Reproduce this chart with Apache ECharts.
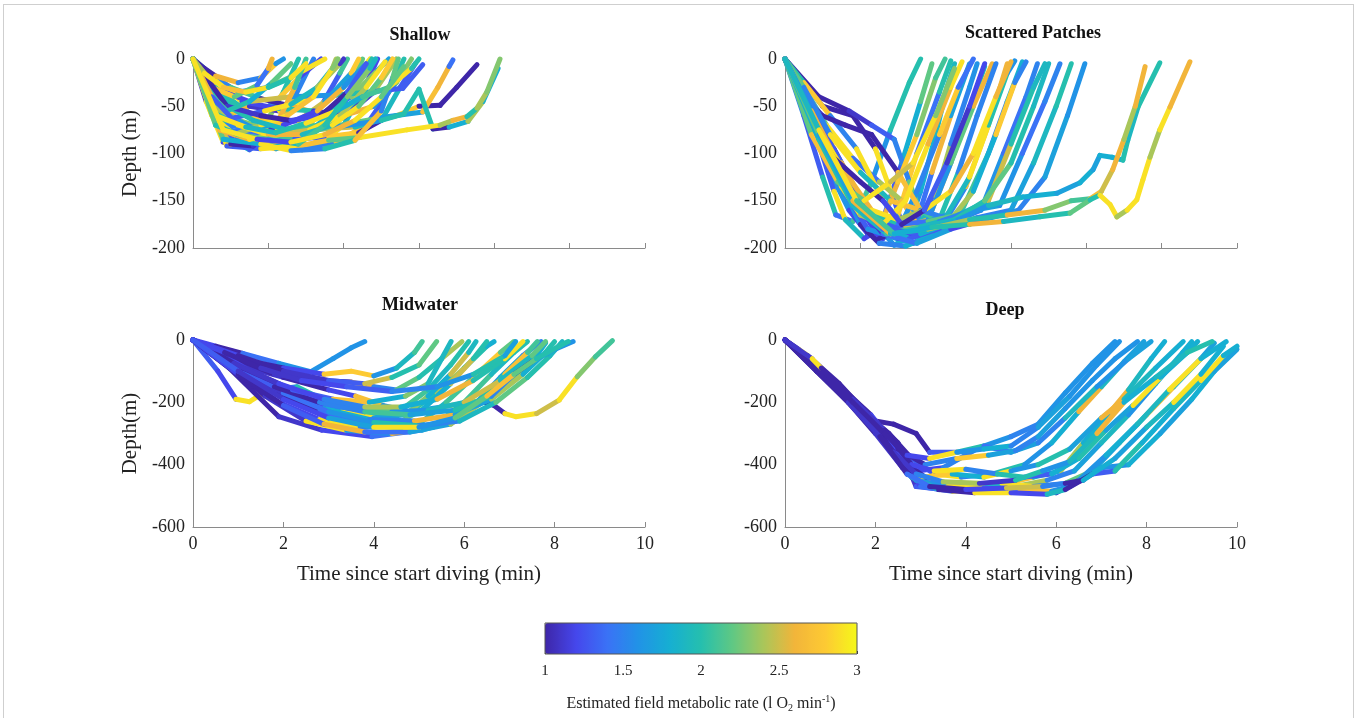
<!DOCTYPE html>
<html>
<head>
<meta charset="utf-8">
<script src="https://cdn.jsdelivr.net/npm/echarts@6/dist/echarts.min.js"></script>
<style>
  html, body { margin: 0; padding: 0; background: #fff; }
  #main { width: 1357px; height: 718px; }
  #frame { position: absolute; left: 3px; top: 4px; width: 1349px; height: 730px; border: 1px solid #cfcfcf; pointer-events: none; }
</style>
</head>
<body>
<div id="main"></div>
<div id="frame"></div>
<script>
// each dive: [time (min), depth (m), metabolic rate of the segment that starts here]
var shallowDives = [
  [[0,0,1.1],[0.35,-45,2.9],[0.8,-88,1.2],[1.3,-92,1.0],[1.9,-70,2.3],[2.4,-35,2.0],[2.8,0,2]],
  [[0,0,2.0],[0.5,-55,2.9],[1.0,-85,1.8],[1.5,-96,1.3],[2.1,-80,2.5],[2.7,-40,1.5],[3.2,0,1.5]],
  [[0,0,2.9],[0.4,-25,2.6],[0.9,-40,2.0],[1.6,-60,1.5],[2.2,-45,2.8],[2.8,-20,1.2],[3.4,0,1]],
  [[0,0,1.9],[0.6,-20,2.7],[1.2,-35,1.6],[2.0,-30,2.2],[2.8,-15,2.9],[3.5,0,2]],
  [[0,0,1.3],[0.7,-65,2.0],[1.4,-88,2.8],[2.2,-95,1.7],[2.9,-85,2.4],[3.4,-50,1.3],[3.9,-15,2.1],[4.1,0,2]],
  [[0,0,2.2],[0.3,-30,1.4],[0.9,-60,2.6],[1.5,-50,1.1],[2.3,-55,2.9],[3.1,-40,1.8],[3.7,-10,2.4],[3.8,0,2]],
  [[0,0,1.6],[0.6,-40,1.0],[1.3,-75,2.3],[2.1,-90,1.9],[2.9,-96,2.7],[3.6,-80,1.4],[4.1,-40,2.2],[4.5,0,2]],
  [[0,0,2.6],[0.5,-35,1.8],[1.2,-55,2.9],[2.0,-70,1.2],[2.8,-65,2.5],[3.5,-45,1.7],[4.2,-15,2.8],[4.4,0,2]],
  [[0,0,1.8],[0.8,-80,1.3],[1.6,-85,2.7],[2.5,-88,1.6],[3.3,-92,2.9],[4.0,-70,1.9],[4.5,-35,1.2],[4.9,0,1]],
  [[0,0,2.4],[0.4,-15,1.5],[1.0,-30,2.1],[1.8,-42,1.0],[2.6,-50,2.6],[3.4,-58,1.4],[4.2,-40,2.3],[4.9,-12,1.7],[5.2,0,1.7]],
  [[0,0,1.2],[0.7,-50,2.2],[1.5,-78,1.6],[2.4,-82,2.9],[3.2,-76,1.8],[4.0,-62,1.1],[4.8,-35,2.4],[5.4,0,2]],
  [[0,0,2.1],[0.6,-45,2.8],[1.4,-70,1.7],[2.3,-85,2.2],[3.0,-93,1.5],[3.8,-88,2.7],[4.6,-70,1.3],[5.2,-35,2.0],[5.6,0,2]],
  [[0,0,1.5],[0.5,-20,2.9],[1.3,-45,1.2],[2.2,-52,2.0],[3.2,-55,1.1],[4.0,-60,2.6],[4.8,-50,1.6],[5.4,-25,2.3],[5.8,0,2]],
  [[0,0,2.8],[0.9,-75,1.4],[1.8,-80,2.1],[2.7,-85,1.3],[3.6,-82,2.8],[4.4,-78,1.0],[5.0,-65,1.9],[5.5,-30,1.3],[5.9,-5,1]],
  [[0,0,1.4],[0.8,-60,2.3],[1.8,-72,1.7],[3.0,-75,2.5],[4.3,-72,1.9],[5.4,-60,2.8],[6.0,-50,1.0],[6.56,-49,1.0],[7.0,-30,1.0],[7.54,-6,1.0]],
  [[0,0,2.3],[0.7,-55,1.6],[1.7,-75,2.9],[2.8,-78,1.3],[3.9,-70,2.2],[5.0,-62,1.7],[6.1,-56,2.7],[6.5,-30,2.6],[6.8,-8,1.4],[6.9,-1,1.4]],
  [[0,0,1.9],[0.5,-30,1.2],[1.5,-45,2.5],[2.6,-40,1.6],[3.8,-38,2.0],[4.7,-35,1.3],[5.57,-31,1.3],[6.1,-6,1.3]],
  [[0,0,2.0],[0.9,-70,1.5],[2.5,-80,2.3],[3.8,-72,1.6],[5.0,-65,2.0],[5.6,-58,2.0],[6.0,-32,2.0],[6.37,-74,1.0],[6.8,-72,1.8],[7.3,-66,2.4],[7.7,-45,1.8],[8.1,-10,1.8]],
  [[0,0,2.9],[0.9,-92,1.3],[1.8,-95,2.9],[2.8,-92,2.7],[3.6,-86,2.2],[4.43,-83,2.9],[5.68,-75,2.9],[6.56,-70,2.4],[6.9,-65,2.6],[7.27,-61,2.0],[7.54,-52,2.4],[7.8,-35,2.3],[8.15,0,2.3]],
  [[0,0,2.7],[0.4,-40,2.9],[0.7,-72,2.5],[1.0,-90,1.0],[1.6,-92,1.1],[2.2,-70,2.6],[2.7,-30,2.1],[3.0,0,2]],
  [[0,0,1.0],[0.3,-10,1.0],[0.6,-18,2.6],[1.2,-25,1.5],[1.8,-20,2.8],[2.2,-5,1.6],[2.4,0,1]],
  [[0,0,2.5],[0.6,-30,2.0],[1.4,-60,2.8],[2.4,-70,1.2],[3.3,-55,2.6],[4.0,-30,1.6],[4.6,-5,2.9],[4.7,0,2]],
  [[0,0,1.7],[0.5,-50,2.4],[1.1,-62,1.3],[1.9,-55,2.9],[2.6,-48,1.9],[3.3,-30,2.4],[3.9,-5,1.1],[4.0,0,1]],
  [[0,0,2.2],[0.8,-85,1.8],[1.8,-90,2.9],[2.6,-97,1.5],[3.5,-95,2.0],[4.3,-86,2.7],[5.0,-55,1.5],[5.3,-20,2.2],[5.45,0,2]],
  [[0,0,1.3],[0.2,-20,1.1],[0.5,-30,2.8],[1.1,-40,2.2],[1.7,-28,1.4],[2.0,-10,2.6],[2.1,0,2]],
  [[0,0,2.9],[0.5,-60,2.9],[1.1,-80,2.4],[1.8,-70,2.9],[2.5,-60,2.7],[3.2,-40,2.9],[3.7,-10,2.3],[3.85,0,2]],
  [[0,0,2.0],[0.7,-45,2.0],[1.6,-65,1.9],[2.5,-75,2.1],[3.3,-70,1.9],[4.0,-45,2.0],[4.6,-10,2.0],[4.75,0,2]],
  [[0,0,1.0],[0.9,-50,1.1],[1.8,-60,1.0],[2.6,-65,1.2],[3.4,-60,1.0],[4.1,-35,1.3],[4.6,-5,1.0]],
  [[0,0,2.8],[0.7,-75,2.6],[1.5,-85,2.9],[2.3,-80,2.5],[3.1,-75,2.9],[3.9,-60,2.4],[4.6,-30,2.9],[5.1,-3,2.5]],
  [[0,0,1.6],[0.4,-35,2.1],[0.9,-55,2.0],[1.5,-45,1.8],[2.1,-25,2.2],[2.6,-5,2.0]],
  [[0,0,2.6],[0.5,-40,1.3],[1.2,-70,2.9],[2.0,-80,2.6],[2.9,-80,1.9],[3.7,-70,2.9],[4.4,-50,2.2],[5.0,-20,2.8],[5.3,0,2]],
  [[0,0,1.9],[0.6,-60,2.9],[1.4,-72,1.9],[2.2,-78,2.0],[3.0,-68,2.9],[3.8,-55,1.8],[4.5,-40,2.1],[5.2,-30,2.9],[5.8,-10,2.0],[6.0,0,2]],
  [[0,0,2.4],[0.3,-15,2.9],[0.8,-30,2.7],[1.4,-35,2.9],[2.0,-30,2.0],[2.6,-20,2.9],[3.0,-5,2.1]],
  [[0,0,2.2],[0.6,-70,2.0],[1.2,-80,2.2],[2.0,-85,1.9],[2.8,-90,2.1],[3.5,-70,2.0],[4.1,-40,2.3],[4.7,-10,1.9],[4.85,0,2]],
  [[0,0,2.9],[0.8,-75,2.9],[1.7,-85,1.2],[2.6,-88,2.9],[3.5,-80,2.6],[4.3,-65,2.9],[5.0,-40,2.2],[5.6,-8,2.9]]
];

var patchDives = [
  [[0,0,1.5],[0.5,-60,1.3],[1.0,-125,2.0],[1.35,-165,1.4],[1.8,-172,2.1],[2.3,-130,1.6],[2.8,-75,2.0],[3.3,-25,2.0],[3.6,0,2]],
  [[0,0,1.1],[0.6,-55,2.9],[1.2,-120,1.6],[1.7,-160,1.2],[2.2,-185,1.0],[2.6,-170,1.3],[3.1,-110,1.8],[3.6,-45,2.2],[3.9,-5,1.4]],
  [[0,0,1.2],[1.0,-50,1.0],[1.8,-60,1.0],[2.4,-95,2.9],[2.9,-150,1.3],[3.2,-185,1.6],[3.6,-140,1.8],[4.0,-80,1.9],[4.3,-30,1.9],[4.5,-5,1.3]],
  [[0,0,1.8],[0.5,-40,2.9],[1.0,-80,1.4],[1.6,-120,2.7],[2.2,-160,1.7],[2.6,-190,1.2],[3.0,-165,2.8],[3.5,-100,1.4],[4.1,-35,2.0],[4.4,-2,2]],
  [[0,0,1.0],[0.9,-40,1.0],[1.7,-55,1.1],[2.3,-70,1.3],[2.9,-85,1.5],[3.3,-130,2.2],[3.7,-175,1.3],[4.0,-145,2.4],[4.4,-90,1.5],[4.9,-30,1.6],[5.1,-5,1.2]],
  [[0,0,2.9],[0.4,-35,1.6],[0.9,-90,1.3],[1.3,-140,2.9],[1.6,-170,1.9],[2.1,-190,1.2],[2.5,-180,2.6],[3.0,-130,2.8],[3.5,-80,2.3],[4.0,-20,2.1],[4.25,0,2]],
  [[0,0,1.3],[0.7,-50,2.6],[1.3,-95,1.1],[1.9,-140,2.9],[2.4,-175,1.6],[2.9,-197,1.8],[3.4,-185,1.4],[3.9,-120,2.6],[4.4,-60,1.7],[4.9,-5,1.7]],
  [[0,0,1.6],[0.5,-30,2.2],[1.1,-70,2.9],[1.8,-105,1.4],[2.5,-130,2.4],[3.1,-150,2.7],[3.5,-175,1.9],[3.9,-160,2.6],[4.4,-110,1.5],[4.9,-55,2.0],[5.3,-8,1.4]],
  [[0,0,1.4],[0.6,-45,1.2],[1.2,-100,1.5],[1.9,-150,1.2],[2.5,-190,1.0],[3.0,-182,1.6],[3.5,-140,1.5],[4.1,-80,2.8],[4.6,-30,1.4],[5.0,0,1]],
  [[0,0,2.0],[0.5,-25,2.8],[1.2,-60,1.5],[1.9,-95,2.9],[2.6,-150,1.7],[3.2,-178,2.5],[3.8,-170,1.6],[4.4,-110,2.2],[5.0,-50,2.6],[5.5,-5,1.3]],
  [[0,0,1.5],[0.8,-60,1.3],[1.5,-110,2.6],[2.2,-160,1.4],[2.8,-188,1.8],[3.4,-195,1.5],[4.0,-180,2.0],[4.6,-120,1.5],[5.1,-60,1.5],[5.6,-5,1.5]],
  [[0,0,1.1],[0.5,-40,1.1],[1.0,-60,1.0],[1.6,-70,1.0],[2.3,-80,1.0],[3.0,-120,2.7],[3.6,-160,2.1],[4.2,-175,1.5],[4.8,-135,2.7],[5.4,-70,2.6],[5.9,-5,1.7]],
  [[0,0,2.6],[0.6,-55,1.4],[1.3,-120,2.0],[2.0,-165,1.2],[2.8,-185,2.5],[3.6,-175,1.6],[4.3,-165,1.9],[4.9,-125,2.9],[5.4,-70,2.0],[5.9,-15,1.6],[6.1,-2,1.6]],
  [[0,0,1.7],[0.7,-65,1.2],[1.4,-125,1.6],[2.0,-175,1.0],[2.5,-195,1.5],[3.2,-198,1.8],[4.0,-185,1.5],[4.7,-160,2.1],[5.4,-100,1.5],[5.9,-45,1.8],[6.3,-3,1.4]],
  [[0,0,2.2],[0.5,-30,1.5],[1.2,-80,2.9],[2.0,-120,1.9],[2.8,-150,2.7],[3.6,-160,1.5],[4.4,-170,2.4],[5.0,-140,1.8],[5.6,-80,2.8],[6.1,-25,1.5],[6.4,-3,1.5]],
  [[0,0,1.2],[0.8,-75,1.7],[1.5,-135,1.3],[2.2,-180,1.6],[3.0,-190,1.2],[3.8,-180,1.5],[4.6,-170,1.4],[5.2,-160,1.6],[5.8,-100,1.4],[6.4,-40,1.5],[6.7,-5,1.5]],
  [[0,0,1.9],[0.6,-50,2.3],[1.4,-110,1.5],[2.2,-160,2.0],[3.0,-175,1.4],[3.8,-172,2.2],[4.6,-165,1.8],[5.4,-150,2.5],[6.0,-90,2.0],[6.6,-30,1.9],[6.9,-5,1.9]],
  [[0,0,1.4],[0.7,-60,1.1],[1.5,-120,1.6],[2.3,-170,1.3],[3.2,-182,1.9],[4.1,-172,1.5],[5.0,-160,1.7],[5.7,-155,1.6],[6.3,-100,1.4],[6.9,-45,1.5],[7.3,-5,1.5]],
  [[0,0,1.6],[0.7,-55,2.6],[1.6,-125,1.2],[2.5,-175,1.8],[3.3,-190,1.3],[4.2,-178,2.0],[5.1,-168,1.5],[6.0,-160,1.7],[6.6,-110,1.9],[7.2,-50,2.0],[7.6,-5,2.0]],
  [[0,0,1.3],[0.8,-70,1.5],[1.7,-140,1.1],[2.6,-185,1.4],[3.5,-195,1.7],[4.4,-180,1.2],[5.3,-170,1.6],[6.2,-160,1.5],[6.9,-125,1.7],[7.5,-60,1.6],[7.96,-5,1.2]],
  [[0,0,2.9],[0.5,-45,2.9],[1.0,-90,2.6],[1.5,-135,2.9],[2.0,-165,2.4],[2.6,-175,2.9],[3.2,-150,2.9],[3.8,-90,2.6],[4.4,-30,2.9],[4.7,-3,2.9]],
  [[0,0,2.4],[0.8,-70,2.9],[1.6,-120,2.6],[2.3,-160,2.9],[3.0,-170,2.4],[3.7,-160,2.9],[4.4,-140,2.6],[5.0,-100,2.9],[5.6,-40,2.6],[6.0,-3,2.4]],
  [[0,0,1.3],[0.6,-60,1.0],[1.3,-105,1.0],[2.0,-130,1.0],[2.6,-150,1.2],[3.1,-175,1.0],[3.7,-160,1.3],[4.3,-110,1.1],[4.9,-50,1.2],[5.3,-5,1.2]],
  [[0,0,2.2],[0.7,-80,2.7],[1.4,-130,2.2],[2.1,-150,2.9],[2.8,-130,2.5],[3.4,-110,2.9],[4.0,-60,2.3],[4.5,-10,2.7]],
  [[0,0,1.8],[0.9,-85,2.0],[1.8,-155,1.9],[2.7,-185,2.1],[3.6,-178,1.9],[4.5,-170,2.0],[5.3,-150,2.2],[6.0,-110,2.0],[6.6,-50,1.9],[7.0,-5,2.0]],
  [[0,0,1.5],[0.8,-70,1.2],[1.7,-140,1.5],[2.6,-180,1.3],[3.6,-185,1.8],[4.6,-170,1.6],[5.4,-155,1.9],[6.32,-146,1.8],[7.22,-142,1.7],[7.83,-131,1.8],[8.18,-117,1.7],[8.36,-102,1.8],[8.68,-104,1.8],[8.97,-107,2.0],[9.1,-86,1.9],[9.37,-51,2.0],[9.95,-4,2]],
  [[0,0,2.2],[0.9,-80,1.7],[1.8,-150,2.6],[2.8,-185,1.9],[3.8,-180,2.4],[4.9,-170,2.0],[5.9,-165,2.6],[6.9,-160,2.3],[7.6,-150,2.1],[8.1,-148,2.7],[8.4,-140,2.5],[8.7,-117,2.6],[9.0,-85,2.4],[9.3,-50,2.6],[9.56,-8,2.4]],
  [[0,0,1.9],[0.9,-75,2.9],[1.9,-150,2.1],[2.9,-185,1.8],[3.9,-178,2.0],[4.9,-175,2.6],[5.8,-172,1.9],[6.77,-167,2.0],[7.57,-163,2.2],[8.1,-149,2.0],[8.36,-144,2.9],[8.63,-154,2.9],[8.81,-167,2.4],[9.08,-160,2.9],[9.34,-149,2.9],[9.5,-128,2.9],[9.69,-104,2.4],[9.95,-75,2.9],[10.22,-51,2.6],[10.75,-3,2.9]]
];

var midwaterDives = [
  [[0,0,1.2],[0.5,-20,1.0],[1.1,-43,1.4],[1.9,-75,1.6],[2.6,-102,1.6],[3.1,-60,1.6],[3.5,-25,1.6],[3.8,-5,1.6]],
  [[0,0,1.3],[0.55,-100,1.2],[0.95,-190,2.9],[1.25,-198,2.9],[1.65,-162,1.5],[2.3,-150,2.0],[3.0,-200,2.2],[3.8,-235,1.6],[4.6,-225,2.1],[5.2,-160,1.9],[5.7,-80,2.0],[6.1,-5,2.0]],
  [[0,0,1.1],[0.8,-80,1.0],[1.7,-160,1.3],[2.6,-210,1.5],[3.6,-240,1.9],[4.6,-235,1.7],[5.5,-215,2.3],[6.34,-195,1.0],[6.66,-210,1.0],[6.9,-236,2.9],[7.14,-246,2.9],[7.6,-236,2.5],[8.1,-193,2.9],[8.5,-118,2.3],[8.9,-54,2.1],[9.28,-2,2]],
  [[0,0,1.0],[0.8,-90,1.0],[1.9,-246,1.1],[2.85,-289,1.2],[3.96,-310,1.4],[5.07,-289,1.8],[5.87,-257,1.5],[6.26,-203,1.6],[6.8,-120,1.7],[7.3,-50,1.5],[7.7,-5,1.5]],
  [[0,0,1.1],[0.7,-70,1.0],[1.6,-180,1.1],[2.5,-260,2.9],[3.4,-290,1.6],[4.4,-300,2.6],[5.3,-280,1.9],[6.0,-200,2.1],[6.6,-110,1.9],[7.1,-40,2.0],[7.4,-5,2]],
  [[0,0,1.2],[0.9,-70,1.1],[1.8,-140,1.0],[2.7,-200,2.6],[3.5,-240,1.5],[4.3,-275,2.9],[5.0,-270,1.9],[5.6,-200,2.1],[6.2,-120,2.8],[6.8,-40,2.2],[7.1,-5,2]],
  [[0,0,1.0],[1.0,-80,1.1],[2.0,-120,1.0],[3.0,-160,1.2],[3.6,-180,2.7],[4.2,-210,1.6],[4.8,-230,2.0],[5.4,-170,2.4],[6.0,-90,2.0],[6.5,-20,1.8],[6.66,-5,1.8]],
  [[0,0,1.2],[0.8,-50,1.0],[1.8,-110,1.1],[2.8,-130,1.0],[3.5,-135,2.6],[4.0,-150,1.5],[4.5,-160,2.2],[5.0,-120,2.0],[5.5,-60,2.4],[5.95,-5,2]],
  [[0,0,1.3],[1.0,-60,1.0],[2.0,-90,1.2],[2.9,-110,2.8],[3.5,-100,2.8],[4.0,-115,1.6],[4.5,-90,1.9],[4.9,-40,2.1],[5.07,-5,1.8]],
  [[0,0,1.0],[0.9,-100,1.0],[1.9,-200,1.2],[2.8,-255,2.9],[3.7,-280,1.5],[4.5,-270,2.2],[5.1,-220,1.8],[5.7,-140,2.5],[6.2,-60,2.0],[6.5,-5,2]],
  [[0,0,1.4],[0.8,-60,1.1],[1.6,-130,1.3],[2.5,-190,1.7],[3.3,-230,2.9],[4.0,-250,1.7],[4.7,-240,2.3],[5.2,-180,1.8],[5.7,-110,2.5],[6.1,-40,1.9],[6.26,-5,1.9]],
  [[0,0,1.1],[0.9,-90,1.2],[1.9,-170,1.0],[2.8,-230,1.4],[3.8,-270,1.8],[4.7,-285,2.9],[5.6,-270,1.6],[6.3,-200,2.0],[6.9,-110,2.7],[7.4,-40,2.1],[7.62,-5,2]],
  [[0,0,1.2],[1.0,-110,1.0],[2.0,-210,1.3],[2.9,-270,2.6],[3.8,-295,1.4],[4.8,-295,1.7],[5.7,-270,2.4],[6.4,-200,1.7],[7.1,-120,2.0],[7.6,-50,1.8],[7.8,-10,1.8]],
  [[0,0,1.0],[0.8,-60,1.2],[1.7,-140,1.1],[2.6,-200,1.5],[3.5,-220,2.2],[4.4,-230,1.6],[5.2,-225,1.9],[6.0,-200,2.5],[6.8,-130,1.9],[7.5,-50,2.2],[7.8,-5,1.0]],
  [[0,0,1.2],[0.9,-80,1.0],[1.9,-160,1.2],[2.9,-220,1.8],[3.9,-255,1.5],[4.9,-260,2.6],[5.8,-240,1.7],[6.6,-190,2.4],[7.3,-110,1.8],[7.8,-40,2.0],[8.0,-5,2.0]],
  [[0,0,1.3],[1.0,-90,1.1],[2.0,-170,1.4],[3.0,-230,1.6],[4.0,-265,2.0],[5.0,-275,1.5],[5.9,-260,1.9],[6.7,-200,2.2],[7.4,-120,2.0],[7.9,-50,1.9],[8.17,-5,1.9]],
  [[0,0,1.1],[0.8,-70,1.3],[1.8,-150,1.0],[2.8,-200,1.5],[3.8,-230,2.1],[4.8,-240,1.7],[5.8,-225,2.0],[6.6,-180,1.5],[7.1,-110,1.0],[7.5,-70,1.6],[8.0,-30,1.6],[8.41,-5,1.6]],
  [[0,0,1.2],[1.0,-50,1.0],[2.0,-100,1.1],[3.0,-130,1.3],[3.8,-140,2.5],[4.4,-120,2.0],[5.0,-80,2.2],[5.39,-5,1.8]],
  [[0,0,1.1],[1.1,-90,1.0],[2.2,-160,1.3],[3.1,-190,2.7],[3.9,-200,1.8],[4.7,-180,2.3],[5.2,-140,1.9],[5.5,-60,1.9],[5.71,-5,1.9]],
  [[0,0,1.0],[0.9,-75,1.1],[1.9,-140,1.2],[2.9,-190,1.5],[3.8,-215,2.4],[4.6,-215,1.8],[5.4,-190,2.6],[6.2,-130,2.0],[6.9,-60,2.9],[7.3,-5,2.0]],
  [[0,0,1.2],[0.7,-40,1.0],[1.5,-90,1.1],[2.4,-130,1.2],[3.4,-150,1.3],[4.4,-165,1.5],[5.4,-150,1.6],[6.2,-110,2.0],[6.9,-50,1.7],[7.14,-5,1.7]],
  [[0,0,1.3],[1.0,-100,1.1],[2.0,-190,1.2],[3.0,-250,1.7],[4.0,-280,2.9],[5.0,-280,1.6],[5.8,-250,2.2],[6.5,-180,2.7],[7.1,-110,2.2],[7.6,-60,2.0],[8.1,-20,2.0],[8.3,-5,2]]
];

var deepDives = [
  [[0,0,1.0],[0.3,-30,2.9],[0.5,-50,1.0],[1.2,-140,1.0],[1.9,-250,1.0],[2.3,-340,1.1],[2.9,-420,1.2],[3.5,-410,1.5],[4.3,-345,1.6],[5.0,-310,1.5],[5.6,-270,1.6],[6.2,-170,1.6],[6.8,-75,1.6],[7.3,-5,1.6]],
  [[0,0,1.0],[0.6,-70,1.0],[1.3,-160,1.0],[1.9,-250,1.0],[2.5,-330,1.1],[2.9,-470,1.3],[3.5,-480,2.8],[4.2,-470,1.6],[4.9,-460,2.7],[5.5,-440,1.8],[6.1,-420,2.4],[6.6,-330,1.8],[7.2,-230,2.6],[7.6,-160,1.9],[8.1,-60,1.8],[8.4,-5,1.8]],
  [[0,0,1.1],[0.5,-60,1.0],[1.2,-150,1.1],[1.8,-240,1.0],[2.3,-300,1.0],[2.8,-380,1.3],[3.3,-430,2.9],[3.9,-440,1.5],[4.6,-430,2.0],[5.3,-400,1.6],[5.9,-330,1.8],[6.5,-230,2.6],[7.0,-150,1.9],[7.5,-70,1.7],[7.94,-5,1.7]],
  [[0,0,1.0],[0.7,-90,1.0],[1.4,-180,1.0],[2.0,-260,1.0],[2.4,-270,1.0],[2.9,-300,1.0],[3.2,-360,1.3],[3.8,-360,2.0],[4.4,-340,1.4],[5.0,-360,1.7],[5.6,-330,1.5],[6.2,-250,1.9],[6.9,-150,1.6],[7.6,-60,1.7],[8.1,-5,1.7]],
  [[0,0,1.0],[0.6,-80,1.1],[1.3,-170,1.0],[2.0,-270,1.0],[2.6,-380,1.2],[3.0,-470,1.4],[3.7,-485,2.9],[4.4,-480,1.3],[5.1,-470,2.4],[5.8,-450,1.5],[6.4,-420,1.7],[7.0,-330,1.9],[7.6,-240,1.6],[8.2,-140,1.8],[8.8,-40,1.8],[9.0,-5,1.8]],
  [[0,0,1.0],[0.8,-100,1.0],[1.5,-200,1.1],[2.1,-300,1.0],[2.7,-420,1.6],[3.3,-460,1.2],[4.0,-470,1.9],[4.8,-460,2.9],[5.5,-470,1.5],[6.2,-460,2.2],[6.8,-420,1.7],[7.4,-330,2.0],[8.0,-240,2.7],[8.6,-150,1.8],[9.2,-60,1.7],[9.5,-10,1.7]],
  [[0,0,1.0],[0.7,-90,1.0],[1.4,-190,1.0],[2.1,-290,1.1],[2.7,-400,1.0],[3.2,-450,2.6],[3.9,-470,1.2],[4.7,-485,1.0],[5.4,-480,2.0],[6.0,-490,1.1],[6.5,-450,1.6],[7.1,-370,1.8],[7.8,-270,1.9],[8.5,-160,2.9],[9.2,-60,1.8],[9.76,-5,1.8]],
  [[0,0,1.1],[0.8,-110,1.0],[1.6,-230,1.0],[2.3,-330,1.2],[2.9,-450,1.6],[3.6,-470,2.9],[4.4,-475,1.4],[5.2,-480,2.7],[5.9,-485,1.6],[6.3,-470,1.8],[7.0,-410,1.6],[7.6,-400,1.8],[8.3,-300,1.7],[9.0,-190,1.8],[9.5,-100,1.7],[10.0,-30,1.7]],
  [[0,0,1.0],[0.7,-100,1.0],[1.4,-200,1.0],[2.0,-300,1.1],[2.6,-410,1.3],[3.0,-440,2.8],[3.7,-430,1.8],[4.4,-440,2.9],[5.0,-420,1.6],[5.6,-400,2.0],[6.3,-350,1.7],[7.0,-250,2.6],[7.5,-190,1.9],[8.2,-90,1.8],[8.81,-5,1.8]],
  [[0,0,1.0],[0.6,-70,1.0],[1.3,-160,1.0],[1.9,-240,1.2],[2.5,-350,1.0],[3.1,-400,1.5],[3.8,-380,2.8],[4.5,-370,1.7],[5.1,-355,1.5],[5.6,-310,1.7],[6.2,-220,1.6],[6.8,-130,1.6],[7.3,-60,1.6],[7.8,-5,1.6]],
  [[0,0,1.0],[0.8,-110,1.1],[1.6,-220,1.0],[2.2,-320,1.0],[2.8,-440,1.9],[3.4,-480,1.0],[4.2,-490,2.9],[5.0,-490,1.2],[5.8,-495,1.9],[6.2,-480,1.0],[6.8,-430,1.3],[7.3,-420,2.0],[7.9,-330,1.8],[8.6,-220,1.9],[9.2,-130,2.9],[9.7,-50,1.8],[10.0,-20,1.8]],
  [[0,0,1.0],[0.7,-80,1.0],[1.5,-190,1.1],[2.2,-290,1.0],[2.8,-400,1.2],[3.3,-420,2.9],[4.0,-415,1.5],[4.7,-430,2.0],[5.3,-440,1.3],[5.9,-430,1.8],[6.5,-380,2.0],[7.1,-290,1.7],[7.7,-210,2.9],[8.3,-120,1.8],[8.9,-40,1.8],[9.13,-5,1.8]],
  [[0,0,1.0],[0.9,-120,1.0],[1.7,-240,1.0],[2.4,-360,1.1],[2.9,-430,1.5],[3.5,-455,2.4],[4.3,-460,1.1],[5.1,-450,2.0],[5.7,-420,1.6],[6.3,-390,1.9],[6.9,-300,2.6],[7.5,-200,1.8],[8.2,-120,1.9],[8.9,-40,2.0],[9.45,-5,1.8]],
  [[0,0,1.0],[0.7,-100,1.0],[1.4,-200,1.1],[2.1,-310,1.0],[2.7,-430,1.4],[3.2,-470,1.0],[4.0,-480,1.2],[4.9,-475,2.5],[5.7,-470,1.5],[6.2,-460,1.0],[6.6,-450,1.8],[7.3,-380,1.7],[8.0,-280,1.9],[8.6,-200,2.9],[9.2,-110,1.8],[9.7,-20,1.8]],
  [[0,0,1.1],[0.6,-60,2.9],[0.8,-90,1.0],[1.5,-200,1.0],[2.2,-300,1.0],[2.7,-370,1.2],[3.2,-380,2.9],[3.8,-360,1.6],[4.4,-350,1.8],[5.0,-340,1.5],[5.6,-280,1.7],[6.3,-180,1.6],[6.9,-80,1.6],[7.4,-5,1.6]]
];

var panelTitles = ['Shallow', 'Scattered Patches', 'Midwater', 'Deep'];
var rateTicks = [1, 1.5, 2, 2.5, 3];
var parula = ['#3e26a8', '#4547ec', '#3a72f6', '#2193e6', '#16afd2', '#25bfae', '#5fc884', '#a9c65a', '#f2b53a', '#fdca33', '#f5f819'];

function toSegments(dives) {
  var out = [];
  dives.forEach(function (d) {
    for (var i = 0; i < d.length - 1; i++) {
      out.push([d[i][0], d[i][1], d[i + 1][0], d[i + 1][1], d[i][2]]);
    }
  });
  return out;
}

function renderSeg(params, api) {
  var a = api.coord([api.value(0), api.value(1)]);
  var b = api.coord([api.value(2), api.value(3)]);
  return {
    type: 'line',
    shape: { x1: a[0], y1: a[1], x2: b[0], y2: b[1] },
    style: { stroke: api.visual('color'), lineWidth: 5, lineCap: 'round' }
  };
}

var FONT = 'Liberation Serif';
var axisGray = '#8a8a8a';
var txt = '#222';

function xAx(idx, max, labels) {
  return {
    gridIndex: idx, type: 'value', min: 0, max: max, interval: 2,
    axisLine: { onZero: false, lineStyle: { color: axisGray, width: 1 } },
    axisTick: { inside: true, length: 5, lineStyle: { color: axisGray } },
    axisLabel: { show: labels, color: txt, fontFamily: FONT, fontSize: 18, margin: 8 },
    splitLine: { show: false },
    name: labels ? 'Time since start diving (min)' : '',
    nameLocation: 'middle', nameGap: 37,
    nameTextStyle: { color: txt, fontFamily: FONT, fontSize: 21 }
  };
}
function yAx(idx, min, step, name) {
  return {
    gridIndex: idx, type: 'value', min: min, max: 0, interval: step,
    axisLine: { show: true, onZero: false, lineStyle: { color: axisGray, width: 1 } },
    axisTick: { show: false },
    axisLabel: { color: txt, fontFamily: FONT, fontSize: 18, margin: 8 },
    splitLine: { show: false },
    name: name, nameLocation: 'middle', nameGap: 52, nameRotate: 90,
    nameTextStyle: { color: txt, fontFamily: FONT, fontSize: 21 }
  };
}

var allDives = [shallowDives, patchDives, midwaterDives, deepDives];
var series = allDives.map(function (d, i) {
  return {
    type: 'custom', xAxisIndex: i, yAxisIndex: i,
    renderItem: renderSeg,
    dimensions: ['t0', 'd0', 't1', 'd1', 'rate'],
    encode: { x: [0, 2], y: [1, 3] },
    data: toSegments(d),
    silent: true
  };
});

var titlePos = [[420, 35], [1033, 33], [420, 305], [1005, 310]];

var chart = echarts.init(document.getElementById('main'));
chart.setOption({
  backgroundColor: '#fff',
  animation: false,
  grid: [
    { left: 193, top: 59, width: 452, height: 189 },
    { left: 785, top: 59, width: 452, height: 189 },
    { left: 193, top: 340, width: 452, height: 187 },
    { left: 785, top: 340, width: 452, height: 187 },
    { left: 545, top: 623, width: 312, height: 31, show: true, borderColor: '#555', borderWidth: 1, backgroundColor: 'transparent', z: 10 }
  ],
  xAxis: [
    xAx(0, 12, false), xAx(1, 12, false), xAx(2, 10, true), xAx(3, 10, true),
    {
      gridIndex: 4, type: 'value', min: rateTicks[0], max: rateTicks[rateTicks.length - 1], interval: 0.5,
      axisLine: { show: false },
      axisTick: { inside: true, length: 3, lineStyle: { color: '#333' } },
      axisLabel: { color: txt, fontFamily: FONT, fontSize: 15, margin: 10 },
      splitLine: { show: false },
      name: 'Estimated field metabolic rate (l O{sub|2} min{sup|-1})',
      nameLocation: 'middle', nameGap: 40,
      nameTextStyle: {
        color: txt, fontFamily: FONT, fontSize: 16,
        rich: {
          sub: { fontFamily: FONT, fontSize: 10, color: txt, padding: [9, 0, 0, 0] },
          sup: { fontFamily: FONT, fontSize: 10, color: txt, padding: [0, 0, 9, 0] }
        }
      }
    }
  ],
  yAxis: [
    yAx(0, -200, 50, 'Depth (m)'), yAx(1, -200, 50, ''), yAx(2, -600, 200, 'Depth(m)'), yAx(3, -600, 200, ''),
    { gridIndex: 4, type: 'value', min: 0, max: 1, show: false }
  ],
  visualMap: {
    type: 'continuous', min: 1, max: 3, dimension: 4,
    seriesIndex: [0, 1, 2, 3],
    orient: 'horizontal', left: 545, top: 623,
    itemWidth: 31, itemHeight: 312, padding: 0,
    calculable: false, hoverLink: false, text: null, showLabel: false,
    inRange: { color: parula }
  },
  graphic: titlePos.map(function (p, i) {
    return {
      type: 'text', x: p[0], y: p[1],
      style: { text: panelTitles[i], fill: '#111', font: 'bold 18px "' + FONT + '"', textAlign: 'center', textVerticalAlign: 'middle' }
    };
  }),
  series: series
});
</script>
</body>
</html>
